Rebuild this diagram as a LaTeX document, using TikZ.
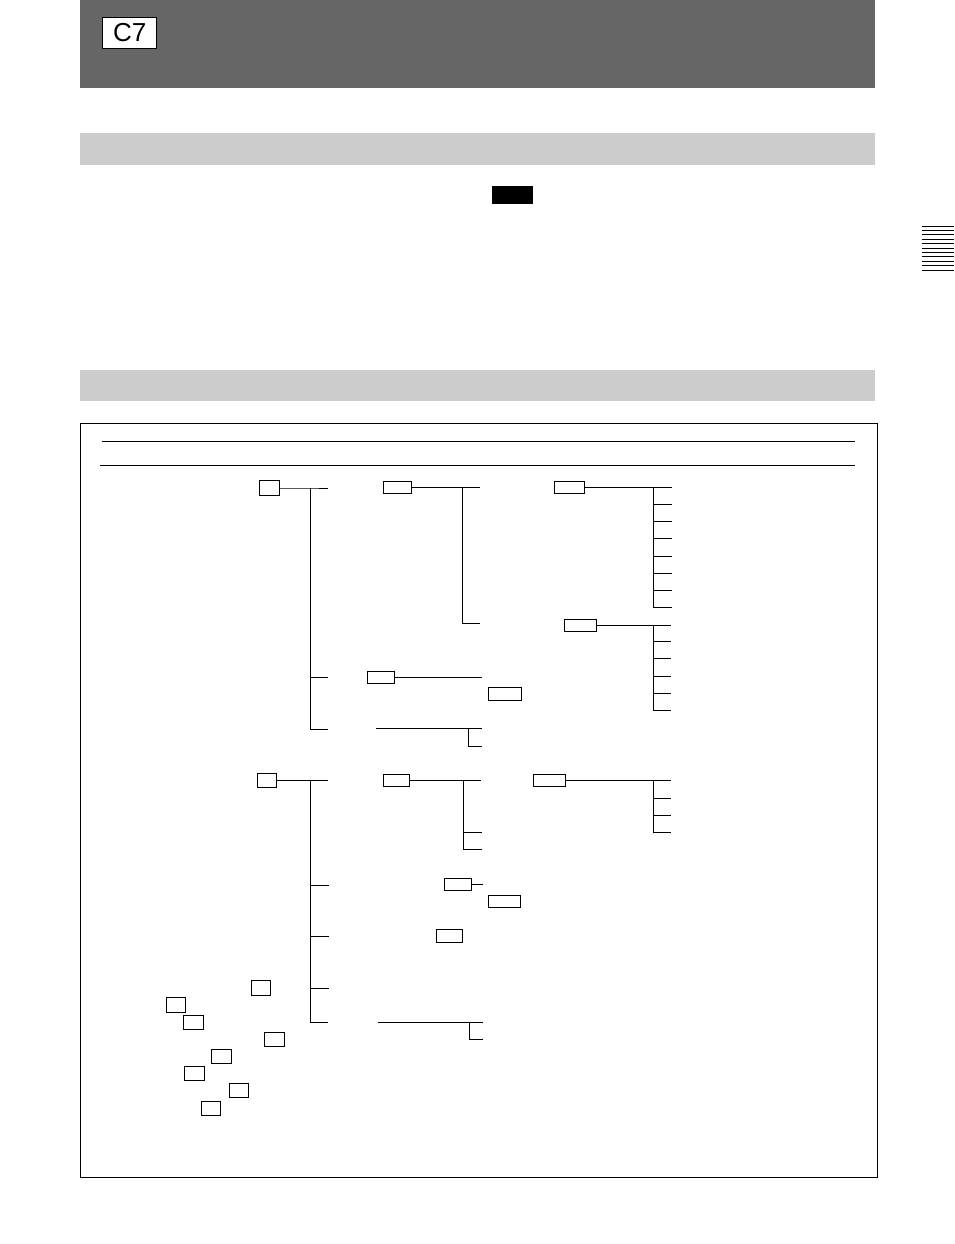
\documentclass[tikz,border=0pt]{standalone}
\usepackage{fontspec}
\setsansfont{Liberation Sans}
\usetikzlibrary{positioning}
\usetikzlibrary{math}

\tikzset{
  slot/.style={draw, fill=white, inner sep=0pt, outer sep=0pt, anchor=north west},
  band/.style={fill=black!20},
}

\begin{document}
\begin{tikzpicture}[x=1pt, y=-1pt, line width=1pt]
      \tikzmath{
        \W = 954;
        \H = 1244;
        \l = 80;
        \r = 875;
      }

      \useasboundingbox (0,0) rectangle (\W,\H);
      \fill[white] (0,0) rectangle (\W,\H);

      \fill[black!60] (\l,0) rectangle (\r,88);
      \node[draw, fill=white, inner sep=0pt, minimum width=54pt, minimum height=31pt,
        font=\sffamily\fontsize{26}{26}\selectfont] (tab) at (129.7,32.7) {C7};

      \fill[band] (\l,133) rectangle (\r,164.5);
      \fill[black] (492,186) rectangle (533,204);
      \fill[band] (\l,370) rectangle (\r,401);

      \foreach \i in {0,...,10}
        \draw (922,226+4.42*\i) -- (\W,226+4.42*\i);

      \draw (80.5,423.5) rectangle (877,1177);
      \draw (102,441.3) -- (855,441.3);
      \draw (100,465) -- (855,465);

      % boxes
      \foreach \n/\x/\y/\w/\h in {
          A1/259.3/480.3/20.4/15.4, B1/383.3/481.3/28.4/12, B2/367.3/671.3/27/12,
          B3/488.3/687.3/33.4/13, C1/554.3/481.7/30.4/12, C2/564.3/619.3/32.4/12,
          A2/257.3/773.3/19.4/14, B4/383.3/774.3/26.4/12, B5/444.3/878.3/27.4/12,
          B6/488.3/895.3/32/12, B7/436.3/929.3/26.4/13.4, C3/533.3/774.3/32.4/12,
          S1/251.3/980.3/19/15, S2/166.3/997.3/19/15, S3/183.3/1015.3/20.4/14,
          S4/264.3/1032.3/20/14, S5/211.3/1049.3/20.4/14, S6/184.3/1066.3/20.4/14,
          S7/229.3/1083.3/19.4/14, S8/201.3/1101.3/19.4/14}
        \node[slot, minimum width=\w pt, minimum height=\h pt] (\n) at (\x,\y) {};

      % upper tree
      \coordinate (a1top) at (310.3,488);
      \coordinate (a1bot) at (310.3,729.3);
      \draw (A1.east) -- (a1top) -- ++(18,0);
      \draw (a1top) -- (a1bot) -- ++(18,0);
      \draw (310.3,677.3) -- ++(18,0);

      \coordinate (b1top) at (462.3,487.3);
      \coordinate (b1bot) at (462.3,623);
      \draw (B1.east) -- (b1top) -- ++(18,0);
      \draw (b1top) -- (b1bot) -- ++(18,0);
      \draw (B2.east) -- (482,677.3);

      \coordinate (b2top) at (468.3,728.3);
      \draw (376,728.3) -- (b2top) -- ++(14,0);
      \draw (b2top) |- (482,746);

      \coordinate (c1top) at (653,487.7);
      \draw (C1.east) -- (c1top) -- ++(18.7,0);
      \draw (c1top) -- (653,607.7);
      \foreach \y in {504.3,521.3,538.3,556.3,573.7,590.3,607.7}
        \draw (653,\y) -- (671.7,\y);

      \coordinate (c2top) at (653,625.3);
      \draw (C2.east) -- (c2top) -- ++(18,0);
      \draw (c2top) -- (653,710);
      \foreach \y in {641.3,658.7,676.7,693.3,710}
        \draw (653,\y) -- (671,\y);

      % lower tree
      \coordinate (a2top) at (310.3,780.3);
      \coordinate (a2bot) at (310.3,1022.3);
      \draw (A2.east) -- (a2top) -- ++(18,0);
      \draw (a2top) -- (a2bot) -- ++(18,0);
      \foreach \y in {885.3,936.3,988.3}
        \draw (310.3,\y) -- (328.5,\y);

      \coordinate (b4top) at (463.3,780.3);
      \draw (B4.east) -- (b4top) -- ++(18,0);
      \draw (b4top) -- (463.3,849.3) -- ++(18.7,0);
      \draw (463.3,832) -- ++(18.7,0);
      \draw (B5.east) -- (483,884.3);

      \coordinate (b5top) at (469.3,1022.3);
      \draw (378,1022.3) -- (b5top) -- ++(13.7,0);
      \draw (b5top) |- (483,1039.3);

      \coordinate (c3top) at (653.3,780.3);
      \draw (C3.east) -- (c3top) -- ++(17.7,0);
      \draw (c3top) -- (653.3,832.3);
      \foreach \y in {798.3,815.3,832.3}
        \draw (653.3,\y) -- (671,\y);

\end{tikzpicture}
\end{document}
